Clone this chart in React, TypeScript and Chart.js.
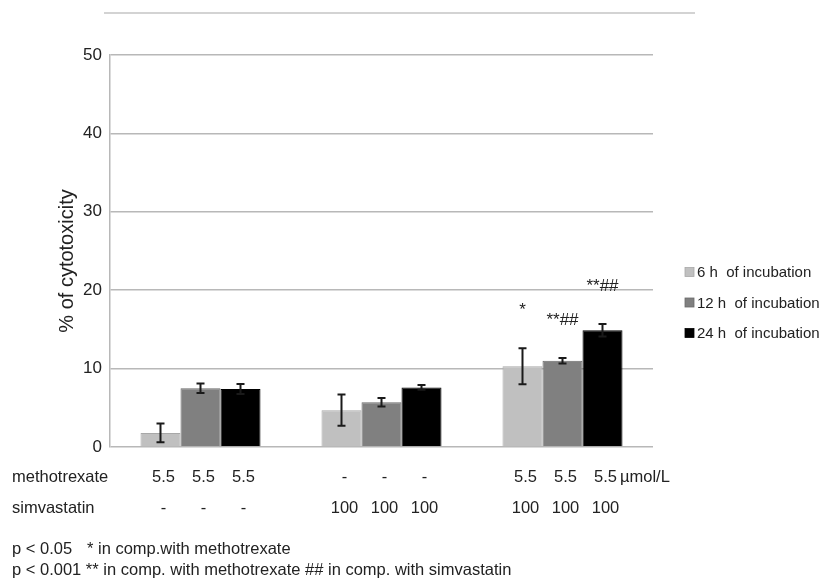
import React, { useEffect, useRef } from "react";
import { Chart, registerables } from "chart.js";

Chart.register(...registerables);

const categories = ["methotrexate", "simvastatin", "methotrexate + simvastatin"];
const seriesLabels = ["6 h  of incubation", "12 h  of incubation", "24 h  of incubation"];
const seriesColors = ["#c0c0c0", "#808080", "#000000"];
const seriesBorders = ["#a8a8a8", "#6a6a6a", "#000000"];

const values6h = [1.8, 4.7, 10.3];
const values12h = [7.5, 5.7, 11.0];
const values24h = [7.4, 7.6, 14.9];

const err6h = [1.2, 2.0, 2.3];
const err12h = [0.6, 0.55, 0.35];
const err24h = [0.65, 0.3, 0.8];

const marks6h = ["", "", "*"];
const marks12h = ["", "", "**##"];
const marks24h = ["", "", "**##"];

const methotrexateDose = ["5.5", "-", "5.5"];
const simvastatinDose = ["-", "100", "100"];
const doseUnit = "µmol/L";
const rowLabels = ["methotrexate", "simvastatin"];

const yTitle = "% of cytotoxicity";
const yMin = 0;
const yMax = 50;
const yStep = 10;

const footnote1a = "p < 0.05";
const footnote1b = "* in comp.with methotrexate";
const footnote2 = "p < 0.001 ** in comp. with methotrexate ## in comp. with simvastatin";

const FONT = "'Liberation Sans', Arial, sans-serif";
const TEXT = "#222222";

export default function App() {
  const canvasRef = useRef<HTMLCanvasElement | null>(null);

  useEffect(() => {
    const canvas = canvasRef.current;
    if (!canvas) return;

    const errors = [err6h, err12h, err24h];
    const marks = [marks6h, marks12h, marks24h];

    const overlay = {
      id: "overlay",
      afterDatasetsDraw(chart: any) {
        const ctx = chart.ctx as CanvasRenderingContext2D;
        const yScale = chart.scales.y;
        ctx.save();

        // error bars
        ctx.strokeStyle = "#1a1a1a";
        ctx.lineWidth = 2;
        errors.forEach((errArr, i) => {
          const meta = chart.getDatasetMeta(i);
          const vals = chart.data.datasets[i].data as number[];
          meta.data.forEach((bar: any, j: number) => {
            const x = bar.x;
            const yT = yScale.getPixelForValue(vals[j] + errArr[j]);
            const yB = yScale.getPixelForValue(vals[j] - errArr[j]);
            ctx.beginPath();
            ctx.moveTo(x, yT);
            ctx.lineTo(x, yB);
            ctx.moveTo(x - 4, yT);
            ctx.lineTo(x + 4, yT);
            ctx.moveTo(x - 4, yB);
            ctx.lineTo(x + 4, yB);
            ctx.stroke();
          });
        });

        // significance marks
        ctx.fillStyle = TEXT;
        ctx.font = `17px ${FONT}`;
        ctx.textAlign = "center";
        ctx.textBaseline = "alphabetic";
        marks.forEach((mArr, i) => {
          const meta = chart.getDatasetMeta(i);
          const vals = chart.data.datasets[i].data as number[];
          meta.data.forEach((bar: any, j: number) => {
            if (!mArr[j]) return;
            const yT = yScale.getPixelForValue(vals[j] + errors[i][j]);
            ctx.fillText(mArr[j], bar.x, yT - 33);
          });
        });

        // top decorative line
        ctx.strokeStyle = "#c4c4c4";
        ctx.lineWidth = 1.5;
        ctx.beginPath();
        ctx.moveTo(104, 13);
        ctx.lineTo(695, 13);
        ctx.stroke();

        // y title
        const area = chart.chartArea;
        ctx.save();
        ctx.translate(67, (area.top + area.bottom) / 2 + 10);
        ctx.rotate(-Math.PI / 2);
        ctx.font = `20px ${FONT}`;
        ctx.textAlign = "center";
        ctx.textBaseline = "middle";
        ctx.fillStyle = TEXT;
        ctx.fillText(yTitle, 0, 0);
        ctx.restore();

        // legend
        ctx.font = `15px ${FONT}`;
        ctx.textAlign = "left";
        ctx.textBaseline = "middle";
        seriesLabels.forEach((lab, i) => {
          const cy = 272 + i * 30.5;
          ctx.fillStyle = seriesColors[i];
          ctx.fillRect(685, cy - 4.5, 9, 9);
          ctx.strokeStyle = seriesBorders[i];
          ctx.lineWidth = 0.8;
          ctx.strokeRect(685, cy - 4.5, 9, 9);
          ctx.fillStyle = TEXT;
          ctx.fillText(lab, 697, cy + 1);
        });

        // dose rows
        ctx.font = `16.5px ${FONT}`;
        ctx.textBaseline = "alphabetic";
        ctx.textAlign = "left";
        ctx.fillStyle = TEXT;
        const rowY = [482, 513];
        ctx.fillText(rowLabels[0], 12, rowY[0]);
        ctx.fillText(rowLabels[1], 12, rowY[1]);
        const rows = [methotrexateDose, simvastatinDose];
        ctx.textAlign = "center";
        let lastRight = 0;
        rows.forEach((doseArr, r) => {
          for (let d = 0; d < 3; d++) {
            const meta = chart.getDatasetMeta(d);
            meta.data.forEach((bar: any, j: number) => {
              const x = bar.x + 3;
              ctx.fillText(doseArr[j], x, rowY[r]);
              if (r === 0 && j === categories.length - 1 && d === 2) {
                lastRight = x + ctx.measureText(doseArr[j]).width / 2;
              }
            });
          }
        });
        ctx.textAlign = "left";
        ctx.fillText(doseUnit, lastRight + 3, rowY[0]);

        // footnotes
        ctx.font = `16.5px ${FONT}`;
        ctx.fillText(footnote1a, 12, 554);
        ctx.fillText(footnote1b, 87, 554);
        ctx.fillText(footnote2, 12, 575);

        ctx.restore();
      },
    };

    const chart = new Chart(canvas, {
      type: "bar",
      data: {
        labels: categories,
        datasets: [values6h, values12h, values24h].map((vals, i) => ({
          label: seriesLabels[i],
          data: vals,
          backgroundColor: seriesColors[i],
          borderColor: seriesBorders[i],
          borderWidth: 1,
          categoryPercentage: 0.663,
          barPercentage: 1.0,
        })),
      },
      options: {
        responsive: false,
        animation: false,
        layout: { padding: { top: 55, right: 171, bottom: 133, left: 0 } },
        plugins: {
          legend: { display: false },
          tooltip: { enabled: false },
          title: { display: false },
        },
        scales: {
          x: {
            display: false,
            grid: { display: false },
          },
          y: {
            min: yMin,
            max: yMax,
            ticks: {
              stepSize: yStep,
              color: TEXT,
              font: { family: FONT, size: 17 },
              padding: 8,
            },
            grid: { color: "#b8b8b8", lineWidth: 1.5, drawTicks: false },
            border: { display: true, color: "#b8b8b8", width: 1.5 },
            afterFit(scale: any) {
              scale.width = 110;
            },
          },
        },
      },
      plugins: [overlay],
    });

    return () => chart.destroy();
  }, []);

  return (
    <div style={{ position: "fixed", left: 0, top: 0, width: 824, height: 580, background: "#fff" }}>
      <canvas ref={canvasRef} width={824} height={580} style={{ width: 824, height: 580 }} />
    </div>
  );
}
